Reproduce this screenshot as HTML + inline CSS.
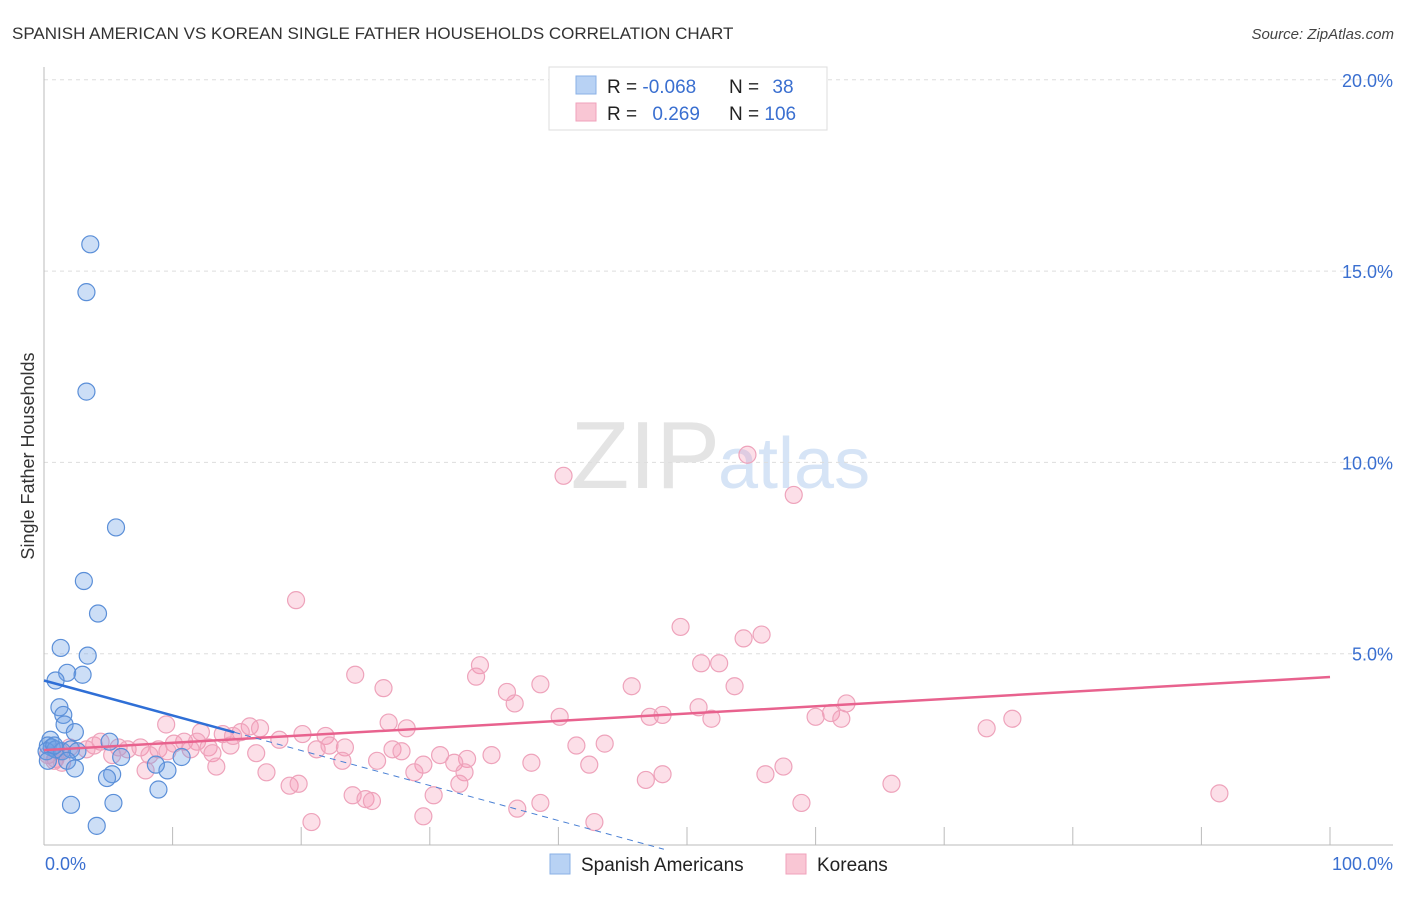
<!DOCTYPE html>
<html><head><meta charset="utf-8"><style>
body{margin:0;background:#fff;font-family:"Liberation Sans",sans-serif}
svg text{font-family:"Liberation Sans",sans-serif}
</style></head><body>
<svg id="c" width="1406" height="892" xmlns="http://www.w3.org/2000/svg">
<text x="12" y="39" font-size="17" fill="#333">SPANISH AMERICAN VS KOREAN SINGLE FATHER HOUSEHOLDS CORRELATION CHART</text>
<text x="1394" y="39" font-size="15" fill="#444" font-style="italic" text-anchor="end">Source: ZipAtlas.com</text>
<text x="720" y="488" font-size="96" fill="#e4e4e4" text-anchor="end" font-family="Liberation Serif">ZIP</text>
<text x="718" y="488" font-size="72" fill="#d6e4f6">atlas</text>
<text x="34" y="456" font-size="18" fill="#333" text-anchor="middle" transform="rotate(-90 34 456)">Single Father Households</text>
<g id="grid"></g><g id="axes"></g><g id="pts"></g><g id="trend"></g>
<g>
<rect x="549" y="67" width="278" height="63" fill="#fff" stroke="#ddd"/>
<rect x="576" y="76" width="20" height="18" fill="#b8d2f4" stroke="#8ab0e6"/>
<rect x="576" y="103" width="20" height="18" fill="#f9c6d4" stroke="#f0a2bb"/>
<text x="607" y="93" font-size="19" fill="#222">R = <tspan fill="#3a6fd0">-0.068</tspan></text>
<text x="729" y="93" font-size="19" fill="#222">N = <tspan fill="#3a6fd0" dx="8">38</tspan></text>
<text x="607" y="120" font-size="19" fill="#222">R = <tspan fill="#3a6fd0" dx="10">0.269</tspan></text>
<text x="729" y="120" font-size="19" fill="#222">N = <tspan fill="#3a6fd0">106</tspan></text>
</g>
<g>
<rect x="550" y="854" width="20" height="20" fill="#b8d2f4" stroke="#8ab0e6"/>
<text x="581" y="871" font-size="19" fill="#222">Spanish Americans</text>
<rect x="786" y="854" width="20" height="20" fill="#f9c6d4" stroke="#f0a2bb"/>
<text x="817" y="871" font-size="19" fill="#222">Koreans</text>
</g>
</svg>
<script>
const yTicks=[5,10,15,20];
const yTickLabels=["5.0%","10.0%","15.0%","20.0%"];
const xTickLabels=["0.0%","100.0%"];
const blueX=[3.6,3.3,3.3,5.6,3.1,4.2,1.3,3.4,1.8,3.0,0.9,1.2,1.5,1.6,2.4,0.5,0.3,0.6,0.2,0.9,1.4,2.1,2.6,5.1,6.0,10.7,1.8,2.4,5.3,4.9,9.6,8.7,2.1,5.4,8.9,4.1,0.8,0.3];
const blueY=[15.7,14.45,11.85,8.3,6.9,6.05,5.15,4.95,4.5,4.45,4.3,3.6,3.4,3.15,2.95,2.75,2.6,2.55,2.45,2.5,2.45,2.5,2.45,2.7,2.3,2.3,2.2,2.0,1.85,1.75,1.95,2.1,1.05,1.1,1.45,0.5,2.6,2.2];
const pinkX=[40.4,54.7,58.3,19.6,49.5,55.8,54.4,51.1,52.5,33.9,24.2,33.6,26.4,38.6,45.7,53.7,36.0,36.6,50.9,62.4,40.1,48.1,47.1,51.9,60.0,61.2,62.0,75.3,9.5,26.8,16.0,16.8,15.3,28.2,73.3,12.2,13.9,18.3,20.1,21.9,10.9,11.9,12.8,10.1,41.4,43.6,5.8,4.4,6.5,7.5,8.9,9.6,11.4,14.5,14.7,21.2,23.4,22.2,27.1,27.8,30.8,32.9,34.8,25.9,16.5,13.1,8.2,3.9,3.3,1.2,0.9,0.3,2.0,5.3,37.9,42.4,29.5,31.9,23.2,13.4,17.3,28.8,32.7,7.9,57.5,48.1,56.1,46.8,32.3,19.1,19.8,65.9,24.0,25.0,25.5,30.3,38.6,36.8,58.9,91.4,20.8,29.5,42.8,0.8,1.4];
const pinkY=[9.65,10.2,9.15,6.4,5.7,5.5,5.4,4.75,4.75,4.7,4.45,4.4,4.1,4.2,4.15,4.15,4.0,3.7,3.6,3.7,3.35,3.4,3.35,3.3,3.35,3.45,3.3,3.3,3.15,3.2,3.1,3.05,2.95,3.05,3.05,2.95,2.9,2.75,2.9,2.85,2.7,2.7,2.55,2.65,2.6,2.65,2.55,2.7,2.5,2.55,2.5,2.45,2.5,2.6,2.85,2.5,2.55,2.6,2.5,2.45,2.35,2.25,2.35,2.2,2.4,2.4,2.35,2.6,2.5,2.45,2.25,2.35,2.55,2.35,2.15,2.1,2.1,2.15,2.2,2.05,1.9,1.9,1.9,1.95,2.05,1.85,1.85,1.7,1.6,1.55,1.6,1.6,1.3,1.2,1.15,1.3,1.1,0.95,1.1,1.35,0.6,0.75,0.6,2.2,2.15];
const blueTrend=[4.3,-0.0915,14.8,48.2]; // intercept, slope, solid end, dashed end
const pinkTrend=[2.48,0.0191,100];
const NS="http://www.w3.org/2000/svg";
const X0=44,X1=1330,Y0=845,YPX=38.26;
const sx=v=>X0+(X1-X0)*v/100, sy=v=>Y0-v*YPX;
function mk(tag,attrs,parent){const e=document.createElementNS(NS,tag);for(const k in attrs)e.setAttribute(k,attrs[k]);parent.appendChild(e);return e;}
const grid=document.getElementById('grid'),axes=document.getElementById('axes'),pts=document.getElementById('pts'),tr=document.getElementById('trend');
yTicks.forEach((t,i)=>{
 const l=mk('line',{x1:X0,x2:1393,y1:sy(t),y2:sy(t),stroke:'#ddd','stroke-dasharray':'4,4'},grid);
 
 
 const tx=mk('text',{x:1393,y:sy(t)+7,'font-size':18,fill:'#3a6fd0','text-anchor':'end'},grid);
 tx.textContent=yTickLabels[i];
 
 
});
const ya=mk('line',{x1:X0,x2:X0,y1:67,y2:Y0,stroke:'#bbb'},axes);


const xa=mk('line',{x1:X0,x2:1393,y1:Y0,y2:Y0,stroke:'#bbb'},axes);


for(let i=1;i<=10;i++){
 const t=mk('line',{x1:sx(i*10),x2:sx(i*10),y1:Y0,y2:Y0-18,stroke:'#bbb'},axes);
 
 
}
[[0,'start',45],[100,'end',1393]].forEach((d,i)=>{
 const tx=mk('text',{x:d[2],y:870,'font-size':18,fill:'#3a6fd0','text-anchor':d[1]},axes);
 tx.textContent=xTickLabels[i];
 
 
});
pinkX.forEach((x,i)=>{
 const c=mk('circle',{cx:sx(x),cy:sy(pinkY[i]),r:8.5,fill:'rgba(244,150,180,0.3)',stroke:'#eea3bb','stroke-width':1.2},pts);
 
 
});
blueX.forEach((x,i)=>{
 const c=mk('circle',{cx:sx(x),cy:sy(blueY[i]),r:8.5,fill:'rgba(110,160,230,0.35)',stroke:'#5b8fd8','stroke-width':1.2},pts);
 
 
});
const bf=x=>blueTrend[0]+blueTrend[1]*x, pf=x=>pinkTrend[0]+pinkTrend[1]*x;
const pl=mk('line',{x1:sx(0),y1:sy(pf(0)),x2:sx(pinkTrend[2]),y2:sy(pf(pinkTrend[2])),stroke:'#e8628e','stroke-width':2.5},tr);


const bd=mk('line',{x1:sx(blueTrend[2]),y1:sy(bf(blueTrend[2])),x2:sx(blueTrend[3]),y2:sy(bf(blueTrend[3])),stroke:'#4a80d4','stroke-width':1,'stroke-dasharray':'6,5'},tr);


const bl=mk('line',{x1:sx(0),y1:sy(bf(0)),x2:sx(blueTrend[2]),y2:sy(bf(blueTrend[2])),stroke:'#2f6fd6','stroke-width':2.5},tr);


</script>
</body></html>
